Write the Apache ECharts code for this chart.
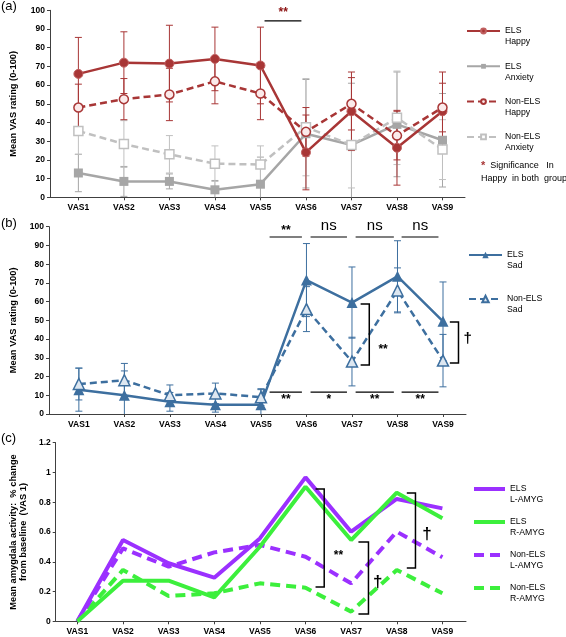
<!DOCTYPE html>
<html><head><meta charset="utf-8">
<script src="https://cdn.jsdelivr.net/npm/echarts@6/dist/echarts.min.js"></script>
<style>html,body{margin:0;padding:0;background:#fff}#c{width:566px;height:637px}</style>
</head><body><div id="c"></div>
<script>
// ---------- data ----------
const categories = ['VAS1','VAS2','VAS3','VAS4','VAS5','VAS6','VAS7','VAS8','VAS9'];

// panel (a)
const a_elsHappy     = [66, 72, 71.5, 74, 70.5, 24, 46, 26.5, 46];
const a_elsHappySD   = [19.5, 16.5, 20.5, 17, 20.5, 20, 21, 20, 21];
const a_nonHappy     = [48, 52.5, 55, 62, 55.5, 35, 50, 33, 48];
const a_nonHappySD   = [12.5, 11, 14, 12, 14, 13, 14, 13, 13];
const a_elsAnx       = [13, 8.5, 8.5, 4, 7, 34, 28, 39, 30.5];
const a_elsAnxSD     = [10, 8, 4, 5, 14.5, 29, 33, 28, 25];
const a_nonAnx       = [35.5, 28.5, 23, 18, 17.5, 37.5, 28, 42.5, 25.5];
const a_nonAnxSD     = [12.5, 12.5, 10, 9.5, 10, 26, 23, 25, 16];

// panel (b)
const b_elsSad   = [13, 10, 6.5, 5, 5, 71.5, 59.5, 73.5, 49.5];
const b_elsSadSD = [11.5, 13, 5, 4, 8, 19.5, 19, 19, 21];
const b_nonSad   = [16, 18, 10, 11, 9, 56, 28, 66, 28.5];
const b_nonSadSD = [8.5, 9, 5.5, 5.5, 4.5, 12, 13, 12, 14];

// panel (c)
const c_elsL = [0, 0.546, 0.39, 0.293, 0.557, 0.967, 0.602, 0.822, 0.759];
const c_elsR = [0, 0.273, 0.273, 0.161, 0.501, 0.904, 0.546, 0.864, 0.692];
const c_nonL = [0, 0.49, 0.367, 0.463, 0.513, 0.434, 0.255, 0.602, 0.43];
const c_nonR = [0, 0.345, 0.17, 0.188, 0.255, 0.226, 0.065, 0.345, 0.188];

// tick labels
const yTicksVAS = [0,10,20,30,40,50,60,70,80,90,100];
const yTicksAmyg = [0,0.2,0.4,0.6,0.8,1,1.2];

// significance annotations (data units: x in VAS index, y in axis units)
const a_sigLines = [[5.09, 5.90, 94.3]];
const a_sigPos   = [[5.5, 98.8]];
const a_sigText  = ['**'];

const b_sigLines = [[5.19,5.90,94.5],[6.09,6.89,94.5],[7.08,7.92,94.5],[8.09,8.90,94.5],
                    [5.19,5.90,11.7],[6.09,6.89,11.7],[7.08,7.92,11.7],[8.09,8.90,11.7]];
const b_sigPos   = [[5.55,97.7],[6.49,100.4],[7.5,100.4],[8.5,100.4],
                    [5.55,7.5],[6.49,7.5],[7.5,7.5],[8.5,7.5]];
const b_sigText  = ['**','ns','ns','ns','**','*','**','**'];
const b_brackets = [[7.38, 58.7, 26.2, 7.19],[9.34, 49.1, 27.2, 9.15]];
const b_brPos    = [[7.58, 34.4],[9.45, 40]];
const b_brText   = ['**','†'];

const c_brackets = [[6.41, 0.889, 0.23, 6.22],[7.38, 0.533, 0.049, 7.16],[8.41, 0.862, 0.358, 8.22]];
const c_brPos    = [[6.62, 0.44],[7.48, 0.264],[8.56, 0.586]];
const c_brText   = ['**','†','†'];

// ---------- helpers ----------
const FF = '"Liberation Sans", Arial, sans-serif';
const idx = categories.map((c,i)=>i+1);
const pts = arr => arr.map((v,i)=>[i+1, v]);

function errSeries(xi, mean, sd, color, z) {
  return {
    type:'custom', xAxisIndex:xi, yAxisIndex:xi, z:z, silent:true,
    data: mean.map((m,i)=>[i+1, m, sd[i]]),
    encode:{x:0, y:1},
    renderItem(params, api){
      const x = api.value(0), m = api.value(1), s = api.value(2);
      const hi = api.coord([x, m+s]);
      const lo = api.coord([x, Math.max(0, m-s)]);
      const w = 3.5;
      const st = {stroke:color, lineWidth:1};
      const ch = [
        {type:'line', shape:{x1:hi[0],y1:hi[1],x2:lo[0],y2:lo[1]}, style:st},
        {type:'line', shape:{x1:hi[0]-w,y1:hi[1],x2:hi[0]+w,y2:hi[1]}, style:st}
      ];
      if (m - s > 0) ch.push({type:'line', shape:{x1:lo[0]-w,y1:lo[1],x2:lo[0]+w,y2:lo[1]}, style:st});
      return {type:'group', children:ch};
    }
  };
}
function sigLineSeries(xi, lines, color) {
  return {
    type:'custom', xAxisIndex:xi, yAxisIndex:xi, silent:true, z:6,
    data: lines, encode:{x:[0,1], y:2},
    renderItem(params, api){
      const a = api.coord([api.value(0), api.value(2)]);
      const b = api.coord([api.value(1), api.value(2)]);
      return {type:'line', shape:{x1:a[0],y1:a[1],x2:b[0],y2:b[1]}, style:{stroke:color, lineWidth:1.2}};
    }
  };
}
function bracketSeries(xi, br) {
  return {
    type:'custom', xAxisIndex:xi, yAxisIndex:xi, silent:true, z:6,
    data: br, encode:{x:[0,3], y:[1,2]},
    renderItem(params, api){
      const x = api.value(0), y1 = api.value(1), y2 = api.value(2), xt = api.value(3);
      const p1 = api.coord([xt, y1]), p2 = api.coord([x, y1]), p3 = api.coord([x, y2]), p4 = api.coord([xt, y2]);
      return {type:'polyline', shape:{points:[p1,p2,p3,p4]}, style:{stroke:'#000', lineWidth:1.5, fill:null}};
    }
  };
}
function textSeries(xi, pos, texts, color, size, align, weight) {
  return {
    type:'custom', xAxisIndex:xi, yAxisIndex:xi, silent:true, z:7,
    data: pos, encode:{x:0, y:1},
    renderItem(params, api){
      const p = api.coord([api.value(0), api.value(1)]);
      const t = texts[params.dataIndex];
      const sz = Array.isArray(size) ? size[params.dataIndex] : size;
      const wt = Array.isArray(weight) ? weight[params.dataIndex] : (weight || 'bold');
      return {type:'text', x:p[0], y:p[1], style:{text:t, fill:color, font:wt+' '+sz+'px '+FF, align:align, verticalAlign:'middle'}};
    }
  };
}

function xAx(gi, min, max) {
  return {
    type:'value', gridIndex:gi, min:min, max:max, splitLine:{show:false},
    axisLine:{show:true, lineStyle:{color:'#404040', width:1}},
    axisTick:{show:true, length:3, customValues:idx, lineStyle:{color:'#404040'}},
    axisLabel:{customValues:idx, formatter:v=>categories[Math.round(v)-1], fontSize:8.5, fontWeight:'bold', color:'#000', margin:6, fontFamily:FF}
  };
}
function yAx(gi, max, interval, name, nameGap, ticks) {
  return {
    type:'value', gridIndex:gi, min:0, max:max, interval:interval,
    name:name, nameLocation:'middle', nameGap:nameGap, nameRotate:90,
    nameTextStyle:{fontSize:9.3, fontWeight:'bold', color:'#000', lineHeight:10, fontFamily:FF},
    splitLine:{show:false},
    axisLine:{show:true, lineStyle:{color:'#404040', width:1}},
    axisTick:{show:true, length:3, lineStyle:{color:'#404040'}},
    axisLabel:{fontSize:8.5, fontWeight:'bold', color:'#000', margin:5, fontFamily:FF,
      formatter:v=>{ const t = ticks.find(k=>Math.abs(k-v)<1e-6); return t===undefined? '' : String(t); }}
  };
}

const RED = '#a83636', GRAY = '#a6a6a6', LGRAY = '#c0c0c0', BLUE = '#3d6f9f', PURPLE = '#9b30ff', GREEN = '#3cef3c';

const legText = {fontSize:8.7, lineHeight:11, color:'#000', fontFamily:FF};
const legFmt = name => ' \n' + name;

const option = {
  animation:false,
  backgroundColor:'#fff',
  grid:[
    {left:41, right:101, top:10.3, bottom:439.7},
    {left:40, right:100, top:226.7, bottom:223},
    {left:49, right:100, top:442.7, bottom:15.7}
  ],
  xAxis:[ xAx(0, 0.3763, 9.4946), xAx(1, 0.344, 9.505), xAx(2, 0.5256, 9.5175) ],
  yAxis:[
    yAx(0, 100, 10, 'Mean VAS rating (0-100)', 32, yTicksVAS),
    yAx(1, 100, 10, 'Mean VAS rating (0-100)', 31, yTicksVAS),
    yAx(2, 1.2, 0.2, 'Mean amygdala activity:  % change\nfrom baseline  (VAS 1)', 27, yTicksAmyg)
  ],
  legend:[
    {data:['ELS\nHappy','ELS\nAnxiety','Non-ELS\nHappy','Non-ELS\nAnxiety'], orient:'vertical', left:466, top:14.5, padding:0,
     itemWidth:33, itemHeight:6, itemGap:2.3, selectedMode:false, textStyle:legText, formatter:legFmt},
    {data:['ELS\nSad','Non-ELS\nSad'], orient:'vertical', left:468, top:238.5, padding:0,
     itemWidth:33, itemHeight:8, itemGap:11, selectedMode:false, textStyle:legText, formatter:legFmt},
    {data:['ELS\nL-AMYG','ELS\nR-AMYG','Non-ELS\nL-AMYG','Non-ELS\nR-AMYG'], orient:'vertical', left:472, top:472.5, padding:0,
     itemWidth:31, itemHeight:7, itemGap:0, selectedMode:false, textStyle:legText, formatter:legFmt,
     lineStyle:{width:4}, itemStyle:{opacity:0}}
  ],
  graphic:[
    {type:'text', left:1, top:0, style:{text:'(a)', font:'13px '+FF, fill:'#000'}},
    {type:'text', left:1, top:217, style:{text:'(b)', font:'13px '+FF, fill:'#000'}},
    {type:'text', left:1, top:432, style:{text:'(c)', font:'13px '+FF, fill:'#000'}},
    {type:'text', left:481, top:159, style:{text:'{r|*}  Significance   In\nHappy  in both  group', font:'9px '+FF, fill:'#000', lineHeight:13,
      rich:{r:{fill:RED, font:'bold 11px '+FF}}}}
  ],
  series:[
    // ---- panel a ----
    errSeries(0, a_elsAnx, a_elsAnxSD, GRAY, 1),
    errSeries(0, a_nonAnx, a_nonAnxSD, LGRAY, 1),
    errSeries(0, a_elsHappy, a_elsHappySD, RED, 1),
    errSeries(0, a_nonHappy, a_nonHappySD, RED, 1),
    {name:'ELS\nAnxiety', type:'line', xAxisIndex:0, yAxisIndex:0, data:pts(a_elsAnx), z:3,
     symbol:'rect', symbolSize:9, lineStyle:{color:GRAY, width:2.5}, itemStyle:{color:GRAY}},
    {name:'Non-ELS\nAnxiety', type:'line', xAxisIndex:0, yAxisIndex:0, data:pts(a_nonAnx), z:3,
     symbol:'rect', symbolSize:9, lineStyle:{color:LGRAY, width:2.5, type:[7,4]}, itemStyle:{color:'#ffffff', borderColor:LGRAY, borderWidth:1.5}},
    {name:'ELS\nHappy', type:'line', xAxisIndex:0, yAxisIndex:0, data:pts(a_elsHappy), z:4,
     symbol:'circle', symbolSize:9, lineStyle:{color:RED, width:2.5}, itemStyle:{color:RED, borderColor:'#c06060', borderWidth:1}},
    {name:'Non-ELS\nHappy', type:'line', xAxisIndex:0, yAxisIndex:0, data:pts(a_nonHappy), z:4,
     symbol:'circle', symbolSize:9, lineStyle:{color:RED, width:2.5, type:[7,4]}, itemStyle:{color:'#fbeaea', borderColor:RED, borderWidth:1.5}},
    sigLineSeries(0, a_sigLines, '#000'),
    textSeries(0, a_sigPos, a_sigText, '#8b1010', 12, 'center'),

    // ---- panel b ----
    errSeries(1, b_elsSad, b_elsSadSD, BLUE, 1),
    errSeries(1, b_nonSad, b_nonSadSD, BLUE, 1),
    {name:'ELS\nSad', type:'line', xAxisIndex:1, yAxisIndex:1, data:pts(b_elsSad), z:4,
     symbol:'triangle', symbolSize:11, lineStyle:{color:BLUE, width:2.5}, itemStyle:{color:BLUE}},
    {name:'Non-ELS\nSad', type:'line', xAxisIndex:1, yAxisIndex:1, data:pts(b_nonSad), z:4,
     symbol:'triangle', symbolSize:11, lineStyle:{color:BLUE, width:2.5, type:[7,4]}, itemStyle:{color:'#dde7f1', borderColor:BLUE, borderWidth:1.5}},
    sigLineSeries(1, b_sigLines, '#000'),
    textSeries(1, b_sigPos, b_sigText, '#000', [12,15,15,15,12,12,12,12], 'center',
               ['bold','normal','normal','normal','bold','bold','bold','bold']),
    bracketSeries(1, b_brackets),
    textSeries(1, b_brPos, b_brText, '#000', [12,15], 'left'),

    // ---- panel c ----
    {name:'Non-ELS\nR-AMYG', type:'line', xAxisIndex:2, yAxisIndex:2, data:pts(c_nonR), z:3, symbol:'none',
     lineStyle:{color:GREEN, width:4, type:[10,6]}, itemStyle:{color:GREEN}},
    {name:'Non-ELS\nL-AMYG', type:'line', xAxisIndex:2, yAxisIndex:2, data:pts(c_nonL), z:3, symbol:'none',
     lineStyle:{color:PURPLE, width:4, type:[10,6]}, itemStyle:{color:PURPLE}},
    {name:'ELS\nL-AMYG', type:'line', xAxisIndex:2, yAxisIndex:2, data:pts(c_elsL), z:3, symbol:'none',
     lineStyle:{color:PURPLE, width:4}, itemStyle:{color:PURPLE}},
    {name:'ELS\nR-AMYG', type:'line', xAxisIndex:2, yAxisIndex:2, data:pts(c_elsR), z:3, symbol:'none',
     lineStyle:{color:GREEN, width:4}, itemStyle:{color:GREEN}},
    bracketSeries(2, c_brackets),
    textSeries(2, c_brPos, c_brText, '#000', [12,17,17], 'left')
  ]
};
const chart = echarts.init(document.getElementById('c'));
chart.setOption(option);
</script>
</body></html>
